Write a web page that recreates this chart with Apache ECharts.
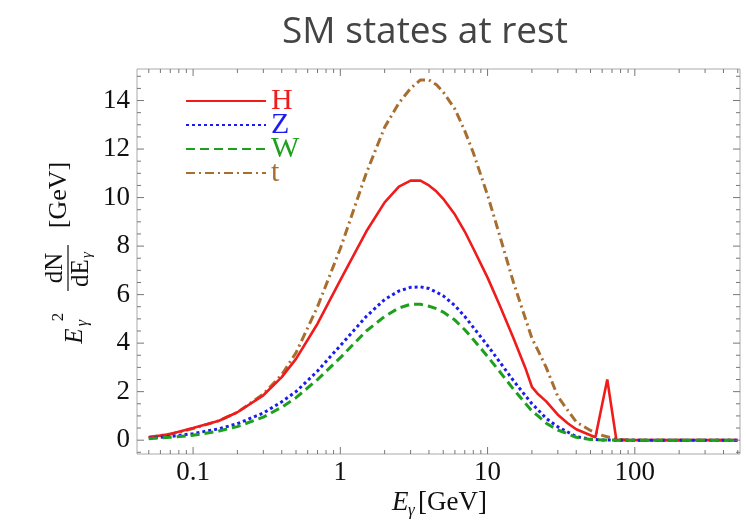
<!DOCTYPE html>
<html><head><meta charset="utf-8">
<script src="https://cdn.jsdelivr.net/npm/echarts@6/dist/echarts.min.js"></script>
<style>html,body{margin:0;padding:0;background:#fff}#c{width:746px;height:525px}</style>
</head><body><div id="c"></div>
<script>
// ---- data ----
const seriesNames = ['H', 'Z', 'W', 't'];
const energyH = [0.05,0.07,0.1,0.15,0.2,0.3,0.4,0.5,0.7,1,1.5,2,2.5,3,3.5,4,4.5,5,6,7,8,10,12,15,18,20,22,25,30,35,40,50,54,65,75,100,150,200,300,500];
const valuesH = [0.12,0.25,0.5,0.8,1.15,1.85,2.6,3.35,4.8,6.6,8.6,9.8,10.45,10.7,10.7,10.5,10.25,9.95,9.3,8.6,7.9,6.7,5.6,4.2,3.0,2.2,1.9,1.6,1.05,0.7,0.45,0.2,0.12,2.5,0,0,0,0,0,0];
const energy = [0.05,0.07,0.1,0.15,0.2,0.3,0.4,0.5,0.7,1,1.5,2,2.5,3,3.5,4,4.5,5,6,7,8,10,12,15,20,22,25,30,40,50,60,75,100,150,200,300,500];
const valuesZ = [0.08,0.15,0.27,0.47,0.68,1.12,1.58,2.0,2.85,3.9,5.1,5.8,6.15,6.3,6.32,6.25,6.1,5.95,5.55,5.1,4.65,3.9,3.25,2.45,1.5,1.25,0.9,0.55,0.15,0.04,0.01,0,0,0,0,0,0];
const valuesW = [0.06,0.12,0.2,0.38,0.56,0.95,1.36,1.75,2.5,3.4,4.5,5.1,5.45,5.6,5.6,5.52,5.42,5.28,4.95,4.55,4.15,3.45,2.85,2.1,1.2,1.0,0.7,0.42,0.12,0.03,0.01,0,0,0,0,0,0];
const valuesT = [0.12,0.25,0.48,0.8,1.15,1.9,2.7,3.6,5.5,7.9,11.0,12.9,13.9,14.5,14.85,14.85,14.65,14.35,13.65,12.75,11.85,10.1,8.5,6.5,4.2,3.7,3.0,1.8,0.75,0.4,0.2,0.03,0,0,0,0,0];
const xTickLabels = [0.1, 1, 10, 100];
const yTickLabels = [0, 2, 4, 6, 8, 10, 12, 14];
const xMinorTicks = [0.05,0.06,0.07,0.08,0.09,0.2,0.3,0.4,0.5,0.6,0.7,0.8,0.9,2,3,4,5,6,7,8,9,20,30,40,50,60,70,80,90,200,300,400,500];
const yMinorTicks = [-0.5,0.5,1,1.5,2.5,3,3.5,4.5,5,5.5,6.5,7,7.5,8.5,9,9.5,10.5,11,11.5,12.5,13,13.5,14.5,15];

// ---- styles ----
const X_MIN = 0.0416, X_MAX = 518, Y_MIN = -0.57, Y_MAX = 15.3;
const COLORS = { H: '#f01c1c', Z: '#1c1cf0', W: '#1ea01e', t: '#a86e30' };
const SERIF = '"Liberation Serif","Times New Roman",serif';
const TICK = '#777';

function pairs(xs, ys) { return xs.map((x, i) => [x, ys[i]]); }

function xTickRenderer(len) {
  return function (params, api) {
    const x = api.value(0);
    const b = api.coord([x, Y_MIN]);
    const t = api.coord([x, Y_MAX]);
    return { type: 'group', children: [
      { type: 'line', shape: { x1: b[0], y1: b[1], x2: b[0], y2: b[1] - len }, style: { stroke: TICK, lineWidth: 1 } },
      { type: 'line', shape: { x1: t[0], y1: t[1], x2: t[0], y2: t[1] + len }, style: { stroke: TICK, lineWidth: 1 } }
    ]};
  };
}
function yTickRenderer(len) {
  return function (params, api) {
    const y = api.value(1);
    const l = api.coord([X_MIN, y]);
    const r = api.coord([X_MAX, y]);
    return { type: 'group', children: [
      { type: 'line', shape: { x1: l[0], y1: l[1], x2: l[0] + len, y2: l[1] }, style: { stroke: TICK, lineWidth: 1 } },
      { type: 'line', shape: { x1: r[0], y1: r[1], x2: r[0] - len, y2: r[1] }, style: { stroke: TICK, lineWidth: 1 } }
    ]};
  };
}

const chart = echarts.init(document.getElementById('c'), null, { renderer: 'canvas' });

function lineSeries(name, data, dash, width) {
  return {
    name: name, type: 'line', data: data, symbol: 'none', smooth: false,
    lineStyle: { color: COLORS[name], width: width, type: dash },
    itemStyle: { color: COLORS[name] },
    animation: false, z: 3
  };
}

const option = {
  animation: false,
  backgroundColor: '#fff',
  grid: { left: 137, right: 6, top: 69, bottom: 71, show: true, borderColor: '#aaa', borderWidth: 1, backgroundColor: 'transparent' },
  xAxis: {
    type: 'log', logBase: 10, min: X_MIN, max: X_MAX,
    axisLine: { show: false }, axisTick: { show: false }, splitLine: { show: false },
    axisLabel: {
      margin: 5, fontSize: 27, fontFamily: SERIF, color: '#111',
      formatter: function (v) {
        const r = xTickLabels.find(t => Math.abs(t - v) / t < 1e-6);
        return r === undefined ? '' : String(r);
      }
    }
  },
  yAxis: {
    type: 'value', min: Y_MIN, max: Y_MAX, minInterval: 2, maxInterval: 2,
    axisLine: { show: false }, axisTick: { show: false }, splitLine: { show: false },
    axisLabel: {
      margin: 7, fontSize: 27, fontFamily: SERIF, color: '#111',
      formatter: function (v) {
        const r = yTickLabels.find(t => Math.abs(t - v) < 1e-6);
        return r === undefined ? '' : String(r);
      }
    }
  },
  legend: {
    orient: 'vertical', left: 180, top: 81, itemWidth: 80, itemHeight: 14, itemGap: -6,
    textStyle: { fontFamily: SERIF, fontSize: 30 },
    itemStyle: { opacity: 0 },
    data: seriesNames.map(n => ({ name: n, textStyle: { color: COLORS[n] } })),
    selectedMode: false
  },
  series: [
    lineSeries('t', pairs(energy, valuesT), [9, 4, 2, 4], 3),
    lineSeries('H', pairs(energyH, valuesH), 'solid', 2.6),
    lineSeries('Z', pairs(energy, valuesZ), [3, 3], 3),
    lineSeries('W', pairs(energy, valuesW), [9, 5], 3),
    { type: 'custom', silent: true, animation: false, z: 5, data: xTickLabels.map(v => [v, 0]), renderItem: xTickRenderer(7) },
    { type: 'custom', silent: true, animation: false, z: 5, data: xMinorTicks.map(v => [v, 0]), renderItem: xTickRenderer(4) },
    { type: 'custom', silent: true, animation: false, z: 5, data: yTickLabels.map(v => [1, v]), renderItem: yTickRenderer(7) },
    { type: 'custom', silent: true, animation: false, z: 5, data: yMinorTicks.map(v => [1, v]), renderItem: yTickRenderer(4) }
  ],
  graphic: [
    { type: 'text', x: 425, y: 32, z: 10,
      style: { text: 'SM states at rest', font: '37px "Open Sans", sans-serif', fill: '#444', textAlign: 'center', textVerticalAlign: 'middle' } },
    { type: 'group', x: 438, y: 503, z: 10, children: [
      { type: 'text', x: -46, y: 0, style: { text: 'E', font: 'italic 27px ' + SERIF, fill: '#111', textVerticalAlign: 'middle' } },
      { type: 'text', x: -30, y: 8, style: { text: 'γ', font: 'italic 17px ' + SERIF, fill: '#111', textVerticalAlign: 'middle' } },
      { type: 'text', x: -20, y: 0, style: { text: '[GeV]', font: '27px ' + SERIF, fill: '#111', textVerticalAlign: 'middle' } }
    ]},
    { type: 'group', x: 65, y: 265, rotation: Math.PI / 2, z: 10, children: [
      { type: 'text', x: -71, y: 10, style: { text: 'E', font: 'italic 25px ' + SERIF, fill: '#111', textAlign: 'center', textVerticalAlign: 'middle' } },
      { type: 'text', x: -58, y: 18, style: { text: 'γ', font: 'italic 16px ' + SERIF, fill: '#111', textAlign: 'center', textVerticalAlign: 'middle' } },
      { type: 'text', x: -52, y: -6, style: { text: '2', font: '17px ' + SERIF, fill: '#111', textAlign: 'center', textVerticalAlign: 'middle' } },
      { type: 'text', x: -3, y: -10, style: { text: 'dN', font: '25px ' + SERIF, fill: '#111', textAlign: 'center', textVerticalAlign: 'middle' } },
      { type: 'line', shape: { x1: -26, y1: 3, x2: 20, y2: 3 }, style: { stroke: '#111', lineWidth: 1.2 } },
      { type: 'text', x: -8, y: 16, style: { text: 'dE', font: '25px ' + SERIF, fill: '#111', textAlign: 'center', textVerticalAlign: 'middle' } },
      { type: 'text', x: 10, y: 22, style: { text: 'γ', font: 'italic 15px ' + SERIF, fill: '#111', textAlign: 'center', textVerticalAlign: 'middle' } },
      { type: 'text', x: 70, y: -6, style: { text: '[GeV]', font: '26px ' + SERIF, fill: '#111', textAlign: 'center', textVerticalAlign: 'middle' } }
    ]}
  ]
};
chart.setOption(option);
</script>
</body></html>
